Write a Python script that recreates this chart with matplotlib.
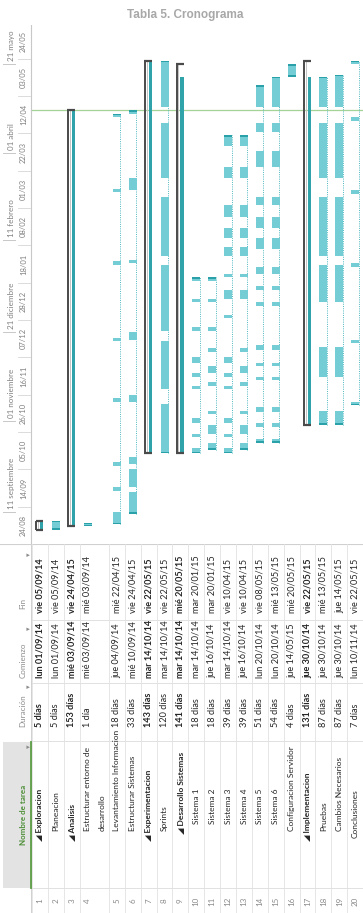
import matplotlib
matplotlib.use('Agg')
import matplotlib.pyplot as plt
import matplotlib.dates as mdates
import matplotlib.transforms as mtransforms
from matplotlib.patches import Rectangle

# ---------------- data ----------------
task_ids = list(range(1, 21))
task_names = ['Exploracion', 'Planeacion', 'Analisis', 'Estructurar entorno de',
              'Levantamiento Informacion', 'Estructurar Sistemas', 'Experimentacion',
              'Sprints', 'Desarrollo Sistemas', 'Sistema 1', 'Sistema 2', 'Sistema 3',
              'Sistema 4', 'Sistema 5', 'Sistema 6', 'Configuracion Servidor',
              'Implementacion', 'Pruebas', 'Cambios Necesarios', 'Conclusiones']
name_second_line = {4: 'desarrollo'}
task_levels = [1, 2, 1, 2, 2, 2, 1, 2, 2, 3, 3, 3, 3, 3, 3, 2, 1, 2, 2, 1]
is_summary = [True, False, True, False, False, False, True, False, True, False,
              False, False, False, False, False, False, True, False, False, False]
durations = ['5 días', '5 días', '153 días', '1 día', '18 días', '33 días', '143 días',
             '120 días', '141 días', '18 días', '18 días', '39 días', '39 días', '51 días',
             '54 días', '4 días', '131 días', '87 días', '87 días', '7 días']
start_txt = ['lun 01/09/14', 'lun 01/09/14', 'mié 03/09/14', 'mié 03/09/14', 'jue 04/09/14',
             'mié 10/09/14', 'mar 14/10/14', 'mar 14/10/14', 'mar 14/10/14', 'mar 14/10/14',
             'jue 16/10/14', 'mar 14/10/14', 'jue 16/10/14', 'lun 20/10/14', 'lun 20/10/14',
             'jue 14/05/15', 'jue 30/10/14', 'jue 30/10/14', 'jue 30/10/14', 'lun 10/11/14']
end_txt = ['vie 05/09/14', 'vie 05/09/14', 'vie 24/04/15', 'mié 03/09/14', 'mié 22/04/15',
           'vie 24/04/15', 'vie 22/05/15', 'vie 22/05/15', 'mié 20/05/15', 'mar 20/01/15',
           'mar 20/01/15', 'vie 10/04/15', 'vie 10/04/15', 'vie 08/05/15', 'mié 13/05/15',
           'mié 20/05/15', 'vie 22/05/15', 'mié 13/05/15', 'jue 14/05/15', 'vie 22/05/15']

# summary rows: (start, end, end of teal roll-up)
summary_spans = {
    1: ('2014-09-01', '2014-09-06', '2014-09-06'),
    3: ('2014-09-03', '2015-04-25', '2015-04-25'),
    7: ('2014-10-14', '2015-05-23', '2015-05-23'),
    9: ('2014-10-14', '2015-05-21', '2015-05-14'),
    17: ('2014-10-30', '2015-05-23', '2015-05-14'),
}

# task bars (split tasks have several segments)
seg_row2 = [('2014-09-01', '2014-09-06')]
seg_row4 = [('2014-09-03', '2014-09-05')]
seg_row5 = [('2014-09-04', '2014-09-11'), ('2014-09-23', '2014-09-25'), ('2014-10-07', '2014-10-09'),
            ('2014-11-12', '2014-11-14'), ('2014-12-16', '2014-12-18'), ('2015-01-28', '2015-01-30'),
            ('2015-03-10', '2015-03-12'), ('2015-04-21', '2015-04-23')]
seg_row6 = [('2014-09-10', '2014-09-22'), ('2014-09-25', '2014-10-05'), ('2014-10-08', '2014-10-12'),
            ('2014-11-12', '2014-11-16'), ('2014-12-17', '2014-12-21'), ('2015-01-29', '2015-01-31'),
            ('2015-03-11', '2015-03-18'), ('2015-04-23', '2015-04-25')]
seg_row8 = [('2014-10-14', '2014-11-11'), ('2014-11-19', '2014-12-16'), ('2014-12-22', '2015-01-28'),
            ('2015-02-02', '2015-03-07'), ('2015-03-18', '2015-04-18'), ('2015-04-27', '2015-05-23')]
seg_row10 = [('2014-10-14', '2014-10-17'), ('2014-10-23', '2014-10-25'), ('2014-10-31', '2014-11-03'),
             ('2014-11-19', '2014-11-21'), ('2014-11-26', '2014-11-28'), ('2014-12-04', '2014-12-07'),
             ('2014-12-22', '2014-12-24'), ('2015-01-07', '2015-01-09'), ('2015-01-19', '2015-01-21')]
seg_row11 = [('2014-10-16', '2014-10-20'), ('2014-10-25', '2014-10-30'), ('2014-11-05', '2014-11-07'),
             ('2014-11-21', '2014-11-23'), ('2014-11-28', '2014-12-02'), ('2014-12-10', '2014-12-12'),
             ('2014-12-22', '2014-12-24'), ('2015-01-07', '2015-01-09'), ('2015-01-19', '2015-01-21')]
seg_row12 = [('2014-10-14', '2014-10-17'), ('2014-10-23', '2014-10-25'), ('2014-10-31', '2014-11-03'),
             ('2014-11-19', '2014-11-21'), ('2014-11-26', '2014-11-28'), ('2014-12-04', '2014-12-07'),
             ('2014-12-29', '2014-12-31'), ('2015-01-09', '2015-01-14'), ('2015-01-21', '2015-01-23'),
             ('2015-02-02', '2015-02-07'), ('2015-02-12', '2015-02-18'), ('2015-02-24', '2015-03-03'),
             ('2015-03-18', '2015-03-24'), ('2015-04-05', '2015-04-11')]
seg_row13 = [('2014-10-16', '2014-10-20'), ('2014-10-25', '2014-10-30'), ('2014-11-05', '2014-11-07'),
             ('2014-11-21', '2014-11-23'), ('2014-11-28', '2014-12-02'), ('2014-12-10', '2014-12-12'),
             ('2015-01-09', '2015-01-14'), ('2015-01-21', '2015-01-23'), ('2015-02-02', '2015-02-07'),
             ('2015-02-12', '2015-02-18'), ('2015-02-24', '2015-03-03'), ('2015-03-18', '2015-03-24'),
             ('2015-04-05', '2015-04-11')]
seg_row14 = [('2014-10-20', '2014-10-22'), ('2014-10-29', '2014-10-31'), ('2014-11-06', '2014-11-09'),
             ('2014-11-24', '2014-11-26'), ('2014-12-02', '2014-12-04'), ('2014-12-11', '2014-12-14'),
             ('2015-01-05', '2015-01-07'), ('2015-01-14', '2015-01-16'), ('2015-01-23', '2015-01-27'),
             ('2015-02-06', '2015-02-12'), ('2015-02-18', '2015-02-24'), ('2015-03-03', '2015-03-07'),
             ('2015-03-24', '2015-04-02'), ('2015-04-13', '2015-04-18'), ('2015-04-27', '2015-05-09')]
seg_row15 = seg_row14[:-1] + [('2015-04-27', '2015-05-14')]
seg_row16 = [('2015-05-14', '2015-05-21')]
seg_row18 = [('2014-10-30', '2014-11-07'), ('2014-11-26', '2014-12-13'), ('2015-01-07', '2015-01-28'),
             ('2015-02-02', '2015-03-07'), ('2015-03-18', '2015-04-18'), ('2015-04-27', '2015-05-14')]
seg_row19 = seg_row18[:-1] + [('2015-04-27', '2015-05-15')]
seg_row20 = [('2014-11-10', '2014-11-12'), ('2014-12-15', '2014-12-17'), ('2015-01-27', '2015-01-29'),
             ('2015-03-09', '2015-03-11'), ('2015-04-19', '2015-04-21'), ('2015-05-21', '2015-05-23')]
task_segments = {2: seg_row2, 4: seg_row4, 5: seg_row5, 6: seg_row6, 8: seg_row8,
                 10: seg_row10, 11: seg_row11, 12: seg_row12, 13: seg_row13, 14: seg_row14,
                 15: seg_row15, 16: seg_row16, 18: seg_row18, 19: seg_row19, 20: seg_row20}

status_date = '2015-04-25'

tier1_dates = ['2014-09-11', '2014-11-01', '2014-12-21', '2015-02-11', '2015-04-01', '2015-05-21']
tier1_labels = ['11 septiembre', '01 noviembre', '21 diciembre', '11 febrero', '01 abril', '21 mayo']
tier2_dates = ['2014-08-24', '2014-09-14', '2014-10-05', '2014-10-26', '2014-11-16', '2014-12-07',
               '2014-12-28', '2015-01-18', '2015-02-08', '2015-03-01', '2015-03-22', '2015-04-12',
               '2015-05-03', '2015-05-24']
tier2_labels = ['24/08', '14/09', '05/10', '26/10', '16/11', '07/12', '28/12', '18/01', '08/02',
                '01/03', '22/03', '12/04', '03/05', '24/05']
view_start, view_end = '2014-08-24', '2015-06-12'

# ---------------- style / layout ----------------
W, H = 363, 913
DPI = 100
FONT = ['Lato', 'DejaVu Sans']
LIGHT = '#74cdd4'
DARK = '#2aa1a9'
TEAL = '#30a3aa'
DOT = '#4fb8c0'
GRAY = '#4a4a4a'
TXT = '#262626'

row_h = [15.9] * 20
row_h[3] = 29.3
row_left = {}
acc = 31.8
for i, h in enumerate(row_h):
    row_left[i + 1] = acc
    acc += h

g_top, g_bot = 25, 544  # gantt area in pixels

fig = plt.figure(figsize=(W / DPI, H / DPI), dpi=DPI)
fig.patch.set_facecolor('white')

ax = fig.add_axes([0, 1 - g_bot / H, 1, (g_bot - g_top) / H])
ax.set_xlim(0, W)
d = mdates.datestr2num
ax.set_ylim(d(view_start), d(view_end))
ax.axis('off')

# timescale
for i, (s, lab) in enumerate(zip(tier2_dates, tier2_labels)):
    a = d(s)
    b = min(a + 21, d(view_end))
    ax.text(23.5, (a + b) / 2, lab, rotation=90, ha='center', va='center',
            fontsize=5.5, color='#808080', family=FONT)
    ax.plot([18, 30], [a, a], color='#d6d6d6', lw=0.6)
off = mtransforms.offset_copy(ax.transData, fig=fig, x=0, y=3, units='dots')
for s, lab in zip(tier1_dates, tier1_labels):
    ax.text(11.5, d(s), lab, rotation=90, rotation_mode='anchor', ha='left', va='center',
            fontsize=5.8, color='#808080', family=FONT, transform=off)
    ax.plot([3, 15], [d(s), d(s)], color='#c8c8c8', lw=0.7)
ax.plot([31, 31], [d(view_start), d(view_end)], color='#c8c8c8', lw=0.8)

# status line
ax.plot([31, W], [d(status_date)] * 2, color='#a3d396', lw=0.9, zorder=1)

# summary brackets
for r, (s, e, te) in summary_spans.items():
    L = row_left[r]
    ax.bar(L + 9.8, d(te) - d(s), bottom=d(s), width=3.6, color=TEAL, zorder=3)
    ax.plot([L + 4.5, L + 4.5], [d(s), d(e)], color=GRAY, lw=1.4, zorder=4, solid_capstyle='butt')
    ax.plot([L + 6.0, L + 6.0], [d(s), d(e)], color='#c4c4c4', lw=0.7, zorder=4)
    for y in (d(s), d(e)):
        ax.plot([L + 3.8, L + 11.6], [y, y], color=GRAY, lw=1.6, zorder=5, solid_capstyle='butt')

# task bars
for r, segs in task_segments.items():
    cx = row_left[r] + 8
    if len(segs) > 1:
        ax.plot([cx + 3.4, cx + 3.4], [d(segs[0][0]), d(segs[-1][1])], color=DOT, lw=0.7,
                ls=(0, (1, 1.3)), zorder=2)
    for s, e in segs:
        ax.bar(cx, d(e) - d(s), bottom=d(s), width=8, color=LIGHT, zorder=3)
    cap = 0.9
    ax.bar(cx, cap, bottom=d(segs[0][0]), width=8, color=DARK, zorder=4)
    ax.bar(cx, cap, bottom=d(segs[-1][1]) - cap, width=8, color=DARK, zorder=4)

# ---------------- table ----------------
tb = fig.add_axes([0, 0, 1, (H - g_bot) / H])
tb.set_xlim(0, W)
tb.set_ylim(H, g_bot)
tb.axis('off')

# grid
for y in (620, 683, 741, 888):
    tb.plot([31, W], [y, y], color='#dcdcdc', lw=0.6)
tb.plot([0, W], [g_bot, g_bot], color='#d0d0d0', lw=0.8)
for r in task_ids:
    L = row_left[r]
    tb.plot([L, L], [g_bot, H], color='#e2e2e2', lw=0.6)
tb.plot([31, 31], [g_bot, H], color='#d0d0d0', lw=0.7)

# header
tb.add_patch(Rectangle((3, 742), 27, 146, facecolor='#e3e3e3', edgecolor='none'))
tb.plot([30.5, 30.5], [742, 888], color='#5a9b43', lw=1.3)
tb.text(23, 815, 'Nombre de tarea', rotation=90, ha='center', va='center', fontsize=5.8,
        color='#4e8f38', weight='bold', family=FONT)
hdr = [('Duración', 727), ('Comienzo', 678), ('Fin', 609)]
for lab, y in hdr:
    tb.text(23, y, lab, rotation=90, rotation_mode='anchor', ha='left', va='center',
            fontsize=5.8, color='#8c8c8c', family=FONT)
for y in (746, 686, 628, 554):
    tb.text(29, y, '▾', rotation=90, ha='center', va='center', fontsize=5,
            color='#8c8c8c', family=['DejaVu Sans'])

name_base = {1: 838, 2: 831, 3: 824}
for i, r in enumerate(task_ids):
    cx = row_left[r] + 8
    wt = 'bold' if is_summary[i] else 'normal'
    kw = dict(rotation=90, rotation_mode='anchor', ha='left', va='center', fontsize=6.6,
              color=TXT, family=FONT, weight=wt)
    nkw = dict(kw, fontsize=6.0)
    tb.text(cx, 901, str(r), rotation=90, ha='center', va='center', fontsize=5.8,
            color='#8a8a8a', family=FONT)
    lvl = task_levels[i]
    nm = ('◢ ' + task_names[i]) if is_summary[i] else task_names[i]
    y0 = name_base[lvl] + (3 if is_summary[i] else 0)
    tb.text(cx, y0, nm, **nkw)
    if r in name_second_line:
        tb.text(cx + 14.5, y0, name_second_line[r], **nkw)
    tb.text(cx, 727, durations[i], **kw)
    tb.text(cx, 678, start_txt[i], **kw)
    tb.text(cx, 613, end_txt[i], **kw)

fig.text(185 / W, 1 - 15 / H, 'Tabla 5. Cronograma', ha='center', va='center', fontsize=8.5,
         color='#a8a8a8', weight='bold', family=['Liberation Sans', 'DejaVu Sans'])

fig.savefig('out.png', dpi=DPI)
